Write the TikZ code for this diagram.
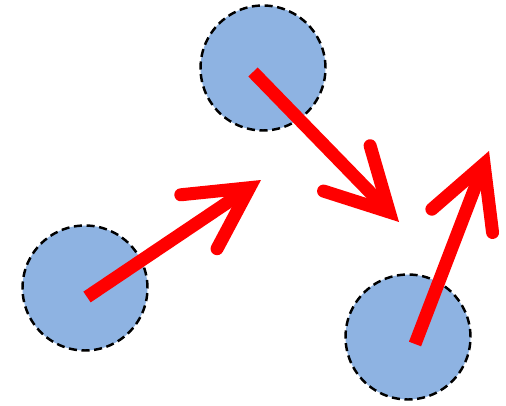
\documentclass[tikz,border=0pt]{standalone}
\usetikzlibrary{arrows.meta}
\definecolor{bubbleblue}{RGB}{142,179,226}
\definecolor{moved}{RGB}{255,0,0}

\begin{document}
\begin{tikzpicture}[
    x=0.02cm, y=-0.02cm,
    bubble/.style={circle, draw=black, fill=bubbleblue, line width=1.4pt,
        dash pattern=on 4.6pt off 2.6pt, minimum size=2.5cm, inner sep=0pt},
    move/.style={draw=moved, line width=0.26cm, line cap=butt,
        -{Straight Barb[length=1.22cm, width=1.3cm, line cap=round, line join=miter]}}
]
\useasboundingbox (0,0) rectangle (506,405);

% particles
\node[bubble] (p1) at (85,288) {};
\node[bubble] (p2) at (263,68) {};
\node[bubble] (p3) at (408,337) {};

% start and end of each move
\coordinate (s1) at (87,297);
\coordinate (e1) at (261,180);
\coordinate (s2) at (253,72);
\coordinate (e2) at (399,222);
\coordinate (s3) at (415,344);
\coordinate (e3) at (489,151);

% moves
\draw[move] (s1) -- (e1);
\draw[move] (s2) -- (e2);
\draw[move] (s3) -- (e3);

\end{tikzpicture}
\end{document}
